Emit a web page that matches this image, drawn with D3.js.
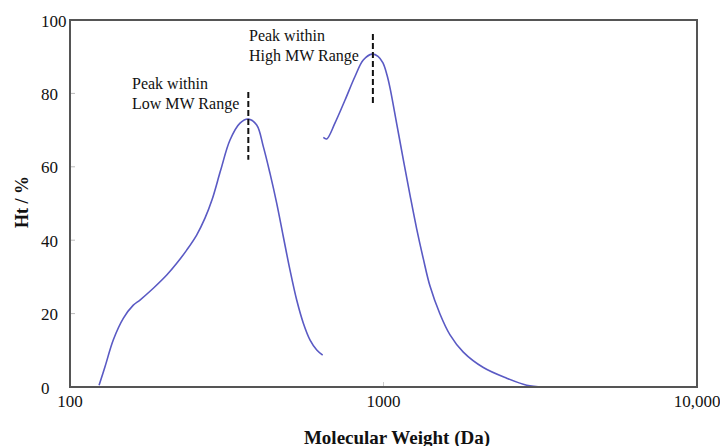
<!DOCTYPE html>
<html>
<head>
<meta charset="utf-8">
<script src="https://cdn.jsdelivr.net/npm/d3@7"></script>
<style>
  html, body { margin: 0; padding: 0; background: #fff; }
  svg { display: block; font-family: "Liberation Serif", "Times New Roman", serif; }
</style>
</head>
<body>
<svg id="chart" width="720" height="446"></svg>
<script>
// Molecular weight distribution: two fractions, values in Ht / %
const lowMW  = [123.8, 129.3, 137.4, 147.9, 159.2, 167.2, 184.4, 203.5, 219, 235.6, 253.5, 269.5, 283.8, 302.5, 323.9, 348.6, 370.5, 394, 413.7, 434.5, 456.3, 479, 503.1, 528.6, 555, 583.2, 612.5, 639.7];
const lowHt  = [0.5, 5.5, 12.8, 18.7, 22.3, 23.7, 26.9, 30.5, 33.7, 37.3, 41.4, 46.0, 51.0, 59.1, 67.3, 71.9, 73.0, 71.4, 65.5, 58.2, 50.1, 41.0, 31.9, 23.7, 17.4, 12.8, 10.1, 8.7];
const highMW = [642.7, 658.9, 700, 754, 811, 862, 919, 960.5, 996, 1026, 1049, 1102, 1157, 1215, 1276, 1340, 1407, 1514, 1630, 1797, 2082, 2472, 2863, 3234];
const highHt = [68.0, 67.6, 71.9, 78.2, 84.6, 89.1, 90.7, 90.1, 88.3, 85.0, 81.5, 71.7, 61.9, 52.3, 43.1, 34.9, 27.5, 19.9, 14.2, 9.5, 5.3, 2.4, 0.5, 0.0];

// Peak markers: position, dashed span and label lines
const peakMW     = [370.5, 925];
const peakSpan   = [[61.9, 80.4], [77.4, 96.2]];
const peakLabels = [["Peak within", "Low MW Range"], ["Peak within", "High MW Range"]];

const xTicks = [100, 1000, 10000];
const xTickLabels = ["100", "1000", "10,000"];
const yTicks = [0, 20, 40, 60, 80, 100];

const svg = d3.select("#chart");
const plotLeft = 70, plotRight = 697, plotTop = 20, plotBottom = 387;

const x = d3.scaleLog().domain([100, 10000]).range([plotLeft, plotRight]);
const y = d3.scaleLinear().domain([0, 100]).range([plotBottom, plotTop]);

// inner tick marks
svg.append("g").selectAll("line").data(yTicks.slice(1, -1)).join("line")
  .attr("x1", plotLeft).attr("x2", plotLeft + 5)
  .attr("y1", d => y(d)).attr("y2", d => y(d))
  .attr("stroke", "#bbb").attr("stroke-width", 1);
svg.append("line")
  .attr("x1", x(1000)).attr("x2", x(1000))
  .attr("y1", plotBottom).attr("y2", plotBottom - 5)
  .attr("stroke", "#ccc").attr("stroke-width", 1);

// curves
const line = d3.line()
  .x(d => x(d[0])).y(d => y(d[1]))
  .curve(d3.curveCatmullRom.alpha(0.5));

const curves = [d3.zip(lowMW, lowHt), d3.zip(highMW, highHt)];
svg.append("g").selectAll("path").data(curves).join("path")
  .attr("d", line)
  .attr("fill", "none")
  .attr("stroke", "#5a5ac4")
  .attr("stroke-width", 1.6);

// peak markers
svg.append("g").selectAll("line").data(peakMW).join("line")
  .attr("x1", d => x(d)).attr("x2", d => x(d))
  .attr("y1", (d, i) => y(peakSpan[i][1]))
  .attr("y2", (d, i) => y(peakSpan[i][0]))
  .attr("stroke", "#111").attr("stroke-width", 2)
  .attr("stroke-dasharray", "6,3");

const labelPos = [[132, 83], [249, 35]];
peakLabels.forEach((lines, i) => {
  const t = svg.append("text")
    .attr("font-size", 16).attr("fill", "#111");
  lines.forEach((s, j) => {
    t.append("tspan")
      .attr("x", labelPos[i][0])
      .attr("y", labelPos[i][1] + j * 20)
      .attr("dominant-baseline", "central")
      .text(s);
  });
});

// frame
svg.append("rect")
  .attr("x", plotLeft).attr("y", plotTop)
  .attr("width", plotRight - plotLeft).attr("height", plotBottom - plotTop)
  .attr("fill", "none").attr("stroke", "#555").attr("stroke-width", 2);

// y tick labels
svg.append("g").selectAll("text").data(yTicks).join("text")
  .attr("x", 41).attr("y", d => y(d) + 1)
  .attr("dominant-baseline", "central")
  .attr("font-size", 17).attr("fill", "#111")
  .text(d => d);

// x tick labels
svg.append("g").selectAll("text").data(xTicks).join("text")
  .attr("x", d => x(d)).attr("y", 401)
  .attr("text-anchor", "middle")
  .attr("dominant-baseline", "central")
  .attr("font-size", 17).attr("fill", "#111")
  .text((d, i) => xTickLabels[i]);

// axis titles
svg.append("text")
  .attr("x", 397).attr("y", 437)
  .attr("text-anchor", "middle").attr("dominant-baseline", "central")
  .attr("font-size", 19).attr("font-weight", "bold").attr("fill", "#111")
  .text("Molecular Weight (Da)");

svg.append("text")
  .attr("transform", "translate(22,202) rotate(-90)")
  .attr("text-anchor", "middle").attr("dominant-baseline", "central")
  .attr("font-size", 18).attr("font-weight", "bold").attr("fill", "#111")
  .text("Ht / %");
</script>
</body>
</html>
